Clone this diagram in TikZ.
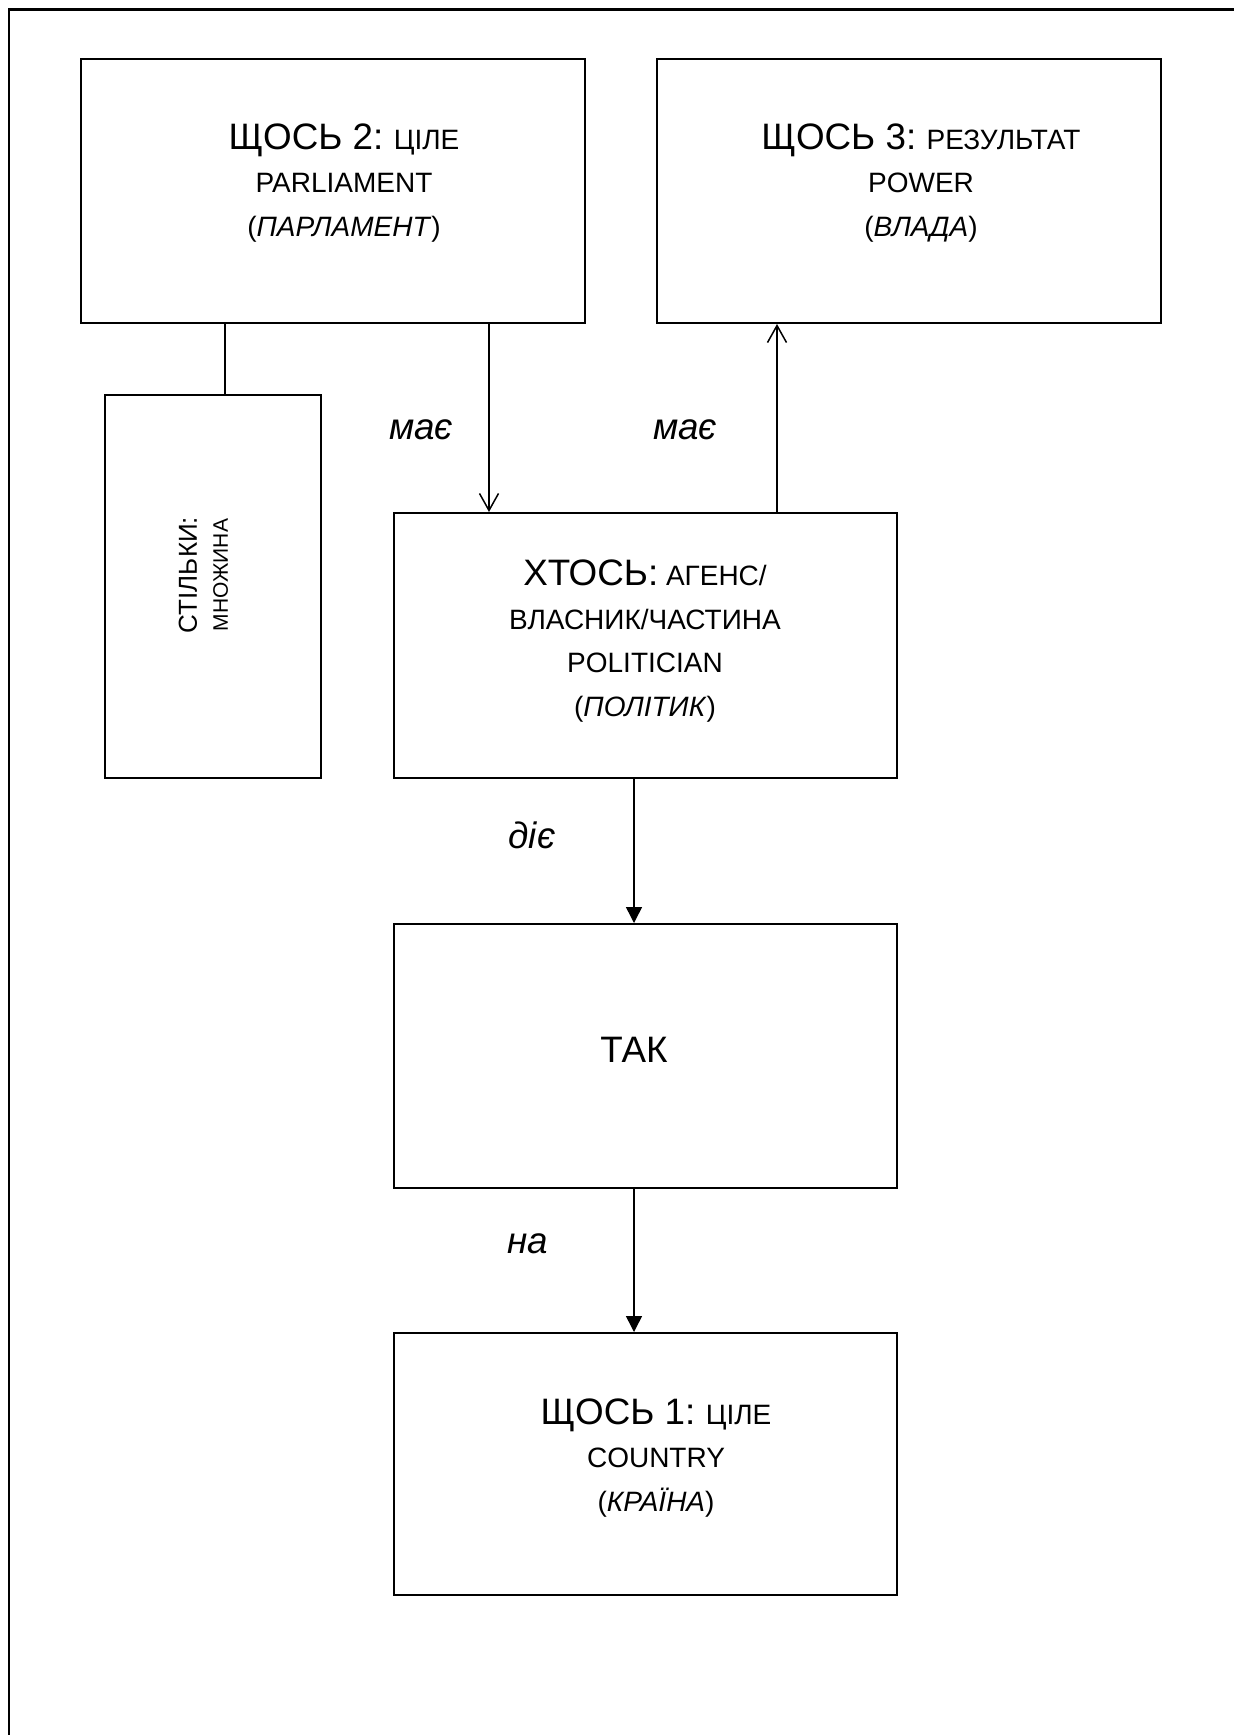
\documentclass[tikz,border=0pt]{standalone}
\usepackage{fontspec}
\setmainfont{Liberation Sans}
\usetikzlibrary{arrows.meta,fit}
\newcommand\bigf{\fontsize{18.4}{21.75}\selectfont}
\newcommand\smallf{\fontsize{14}{21.75}\selectfont}
\tikzset{
  box/.style={draw, line width=1pt, inner sep=0pt},
  txt/.style={align=center, inner sep=0pt, font=\smallf},
  lbl/.style={inner sep=0pt, font=\bigf\itshape},
  plainline/.style={line width=0.75pt},
  openarr/.style={line width=0.75pt, -{Straight Barb[length=8.5pt,width=9.5pt]}},
  fillarr/.style={line width=0.75pt, -{Triangle[length=8pt,width=8pt]}},
}
\begin{document}
\begin{tikzpicture}[x=0.5pt,y=-0.5pt]
\useasboundingbox (0,0) rectangle (1233,1735);
% outer frame (top and left edges visible)
\draw[line width=1.4pt] (9,1745) -- (9,9.5) -- (1245,9.5);

% boxes
\node[box, fit={(81,59) (585,323)}] (A) {};
\node[box, fit={(657,59) (1161,323)}] (B) {};
\node[box, fit={(105,395) (321,778)}] (S) {};
\node[box, fit={(394,513) (897,778)}] (X) {};
\node[box, fit={(394,924) (897,1188)}] (T) {};
\node[box, fit={(394,1333) (897,1595)}] (C) {};

% texts
\node[txt] (At) at (344,183) {{\bigf ЩОСЬ 2:} ЦІЛЕ\\PARLIAMENT\\(\textit{ПАРЛАМЕНТ})};
\node[txt] (Bt) at (921,183) {{\bigf ЩОСЬ 3:} РЕЗУЛЬТАТ\\POWER\\(\textit{ВЛАДА})};
\node[txt] (Xt) at (645,641) {{\bigf ХТОСЬ:} АГЕНС/\\ВЛАСНИК/ЧАСТИНА\\POLITICIAN\\(\textit{ПОЛІТИК})};
\node[txt, font=\bigf] (Tt) at (634,1050) {ТАК};
\node[txt] (Ct) at (656,1458) {{\bigf ЩОСЬ 1:} ЦІЛЕ\\COUNTRY\\(\textit{КРАЇНА})};
\node[txt, rotate=90, font=\fontsize{10.5}{15.5}\selectfont] (St) at (203.5,575)
  {{\fontsize{13}{15.5}\selectfont СТІЛЬКИ:}\\МНОЖИНА};

% connector labels
\node[lbl] (l1) at (421,430) {має};
\node[lbl] (l2) at (685,430) {має};
\node[lbl] (l3) at (532,835) {діє};
\node[lbl] (l4) at (528,1244) {на};

% connectors
\coordinate (xa) at (225,0);
\coordinate (xb) at (489,0);
\coordinate (xc) at (777,0);
\coordinate (xd) at (634,0);
\draw[plainline] (A.south -| xa) -- (S.north -| xa);
\draw[openarr] (A.south -| xb) -- (X.north -| xb);
\draw[openarr] (X.north -| xc) -- (B.south -| xc);
\draw[fillarr] (X.south -| xd) -- (T.north -| xd);
\draw[fillarr] (T.south -| xd) -- (C.north -| xd);
\end{tikzpicture}
\end{document}
